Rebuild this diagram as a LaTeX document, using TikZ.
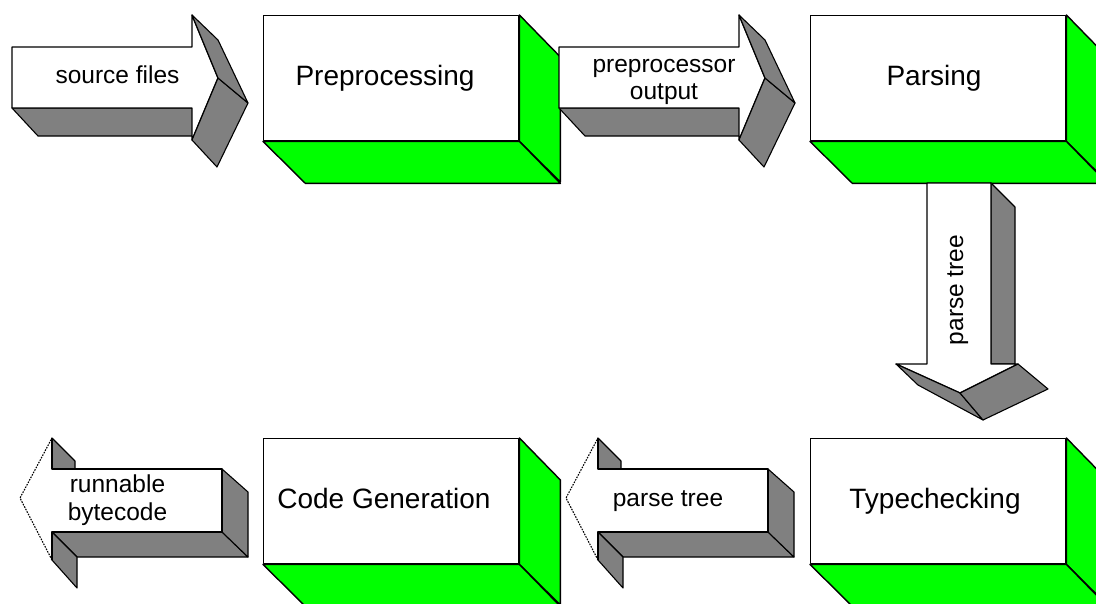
\documentclass[tikz,border=0pt]{standalone}
\usepackage{fontspec}
\setmainfont{Liberation Sans}
\usetikzlibrary{calc}
\definecolor{boxgreen}{RGB}{0,255,0}
\definecolor{arrgray}{RGB}{128,128,128}
\begin{document}
\begin{tikzpicture}[x=1pt,y=-1pt,
  wire/.style={draw=black,line width=1.4pt,line join=round},
  frontface/.style={wire,fill=white},
  greenface/.style={wire,fill=boxgreen},
  grayface/.style={wire,line width=1.1pt,fill=arrgray},
  stagebox/.style={frontface,minimum width=255pt,minimum height=125pt,inner sep=0pt,anchor=north west},
  stagetext/.style={font=\fontsize{28}{32}\selectfont,anchor=base,inner sep=0pt},
  arrtext/.style={font=\fontsize{24.5}{27}\selectfont,anchor=base,inner sep=0pt},
  pics/rarrowblock/.style={code={
    \path[grayface] (0,61) -- (180,61) -- (206,89) -- (26,89) -- cycle;
    \path[frontface] (0,0) -- (180,0) -- (180,-32) -- (206,31) -- (180,93) -- (180,61) -- (0,61) -- cycle;
    \path[grayface] (206,31) -- (180,93) -- (205,120) -- (236,56) -- cycle;
    \path[grayface] (180,-32) -- (206,-7) -- (236,56) -- (206,31) -- cycle;
  }},
  pics/larrowblock/.style={code={
    \path[grayface] (0,63) -- (170,63) -- (196,88) -- (25,88) -- cycle;
    \path[grayface] (170,0) -- (196,23) -- (196,88) -- (170,63) -- cycle;
    \path[grayface] (0,63) -- (0,91) -- (25,119) -- (25,88) -- cycle;
    \path[grayface] (0,-31) -- (23,-8) -- (23,0) -- (0,0) -- cycle;
    \fill[white] (-32,29) -- (0,-31) -- (0,0) -- (170,0) -- (170,63) -- (0,63) -- (0,91) -- cycle;
    \draw[wire] (0,-31) -- (0,0) -- (170,0) -- (170,63) -- (0,63) -- (0,91);
    \draw[line width=1.1pt,dash pattern=on 1.6pt off 1.2pt] (0,91) -- (-32,29) -- (0,-31);
  }},
]
\useasboundingbox (0,0) rectangle (1096,603);
\clip (0,0) rectangle (1096,603);
\fill[white] (0,0) rectangle (1096,603);

% stage boxes (front faces)
\node[stagebox] (pre) at (263,15) {};
\node[stagebox] (par) at (810,15) {};
\node[stagebox] (gen) at (263,438) {};
\node[stagebox] (typ) at (810,438) {};

% green depth faces
\foreach \b in {pre,par,gen,typ}{
  \path[greenface] (\b.north east) -- ++(41,42) -- ++(0,125) -- (\b.south east) -- cycle;
  \path[greenface] (\b.south west) -- (\b.south east) -- ++(41,42) -- ++(-255,0) -- cycle;
}

% stage labels
\node[stagetext] (preT) at (385,85) {Preprocessing};
\node[stagetext] (parT) at (934,85) {Parsing};
\node[stagetext] (genT) at (384,508) {Code Generation};
\node[stagetext] (typT) at (935,508) {Typechecking};

% top row arrows
\pic at (12,47) {rarrowblock};
\pic at (559,47) {rarrowblock};
\node[arrtext] (srcT) at (117.5,83) {source files};
\node[arrtext] (ppoT) at (664,72) {\begin{tabular}[t]{@{}c@{}}preprocessor\\output\end{tabular}};

% down arrow
\begin{scope}[shift={(927,183)}]
  \path[grayface] (64,0) -- (88,24) -- (88,181) -- (64,181) -- cycle;
  \path[frontface] (0,0) -- (64,0) -- (64,181) -- (91,181) -- (33,210) -- (-31,181) -- (0,181) -- cycle;
  \path[grayface] (-31,181) -- (33,210) -- (56,237) -- (-9,202) -- cycle;
  \path[grayface] (91,181) -- (121,206) -- (56,237) -- (33,210) -- cycle;
\end{scope}
\node[arrtext,rotate=90] (ptT1) at (963,290) {parse tree};

% bottom row arrows
\pic at (52,469) {larrowblock};
\pic at (598,469) {larrowblock};
\node[arrtext] (rbT) at (117.5,492) {\begin{tabular}[t]{@{}c@{}}runnable\\[1pt]bytecode\end{tabular}};
\node[arrtext] (ptT2) at (668,506) {parse tree};
\end{tikzpicture}
\end{document}
